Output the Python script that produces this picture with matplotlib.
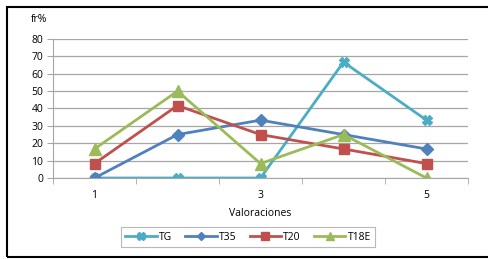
import numpy as np
import matplotlib.pyplot as plt
from matplotlib.patches import Rectangle

categories = [1, 2, 3, 4, 5]
tick_labels = ['1', '', '3', '', '5']
tg = [0, 0, 0, 66.7, 33.3]
t35 = [0, 25, 33.3, 25, 16.7]
t20 = [8.3, 41.7, 25, 16.7, 8.3]
t18e = [16.7, 50, 8.3, 25, 0]

plt.rcParams['font.family'] = ['Open Sans', 'DejaVu Sans']

fig = plt.figure(figsize=(4.88, 2.59), dpi=100)
ax = fig.add_axes([53 / 488, 81 / 259, 415 / 488, 139 / 259])

# outer frame (left, top, bottom; right side cut off)
fig.patches.append(Rectangle((7 / 488, 2 / 259), 1.0, 250 / 259, transform=fig.transFigure,
                             fill=False, edgecolor='black', linewidth=1.5))

series = [
    ('TG', tg, '#4BACC6', 'X', 7),
    ('T35', t35, '#4F81BD', 'D', 6),
    ('T20', t20, '#C0504D', 's', 7),
    ('T18E', t18e, '#9BBB59', '^', 8),
]
for name, vals, col, mk, ms in series:
    ax.plot(categories, vals, color=col, linewidth=2, marker=mk, markersize=ms,
            markerfacecolor=col, markeredgecolor=col, label=name)

ax.set_xlim(0.5, 5.5)
ax.set_ylim(0, 80)
ax.set_yticks(np.arange(0, 81, 10))
ax.yaxis.grid(True, color='#a6a6a6', linewidth=0.9)
ax.set_axisbelow(True)

ax.set_xticks(categories)
ax.set_xticklabels(tick_labels)
ax.set_xticks(np.arange(0.5, 5.6, 1), minor=True)
ax.tick_params(axis='x', which='major', length=0, pad=9, labelsize=7.5)
ax.tick_params(axis='x', which='minor', length=4, color='#a6a6a6', direction='out')
ax.tick_params(axis='y', length=4, color='#a6a6a6', labelsize=7.5, pad=3)

for s in ['top', 'right']:
    ax.spines[s].set_visible(False)
ax.spines['left'].set_color('#a6a6a6')
ax.spines['bottom'].set_color('#a6a6a6')

ax.set_xlabel('Valoraciones', fontsize=7.5, labelpad=5)
fig.text(31 / 488, 1 - 20 / 259, 'fr%', fontsize=7.5, ha='left', va='center')

leg = ax.legend(loc='center', bbox_to_anchor=(248 / 488, 1 - 237 / 259),
                bbox_transform=fig.transFigure, ncol=4, fontsize=7.5, frameon=True,
                fancybox=False, edgecolor='#a6a6a6', handlelength=3.0, markerscale=0.75,
                columnspacing=1.3, handletextpad=0.2, borderpad=0.45)
leg.get_frame().set_linewidth(0.8)

fig.savefig('out.png', dpi=100)
